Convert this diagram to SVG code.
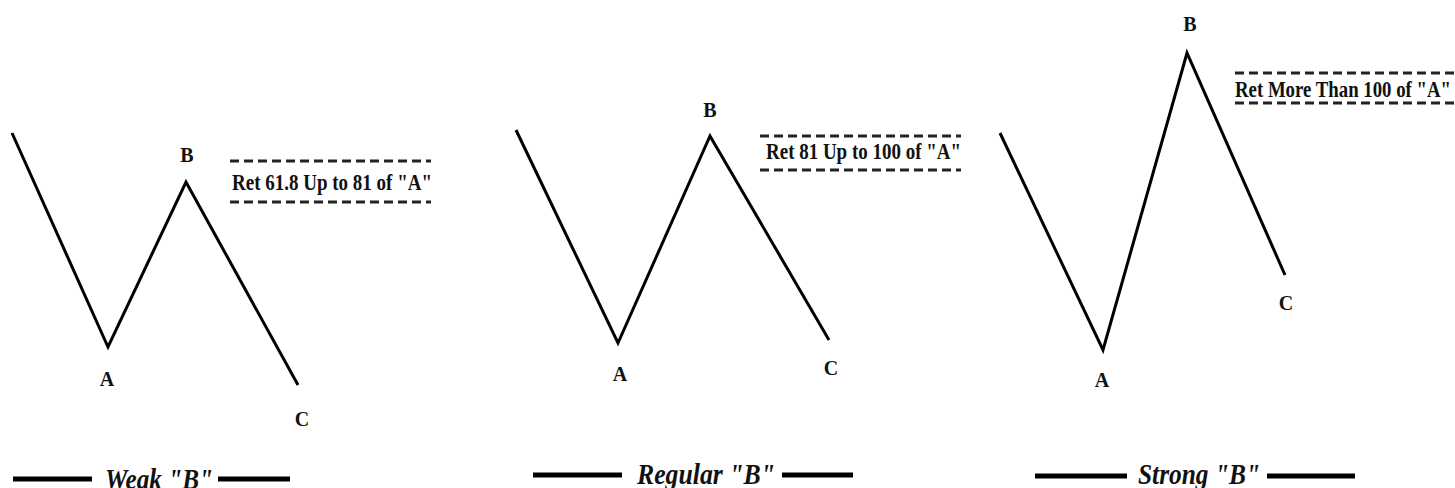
<svg xmlns="http://www.w3.org/2000/svg" width="1455" height="488" viewBox="0 0 1455 488">
<style>
.wave{fill:none;stroke:#000;stroke-width:3;stroke-linejoin:miter}
.dash{stroke:#222;stroke-width:3;stroke-dasharray:9 5}
.bar{stroke:#000;stroke-width:5}
.pt{font-family:"Liberation Serif",serif;font-weight:bold;font-size:20px;fill:#111;text-anchor:middle}
.ret{font-family:"Liberation Serif",serif;font-weight:bold;font-size:23px;fill:#111}
.title{font-family:"Liberation Serif",serif;font-weight:bold;font-style:italic;font-size:30px;fill:#111}
</style>
<rect width="1455" height="488" fill="#fff"/>
<g id="connectors">
<polyline class="wave" points="12,133 108,347 186,182 298,385"/>
<polyline class="wave" points="516,130 618,343 710,136 829,340"/>
<polyline class="wave" points="1000,133 1103,350 1187,53 1285,275"/>
</g>
<g id="weak">
<text class="pt" x="187" y="162">B</text>
<text class="pt" x="107" y="386">A</text>
<text class="pt" x="302" y="426">C</text>
<line class="dash" x1="230" y1="161" x2="431" y2="161"/>
<line class="dash" x1="230" y1="202" x2="431" y2="202"/>
<text class="ret" x="232" y="190" textLength="200" lengthAdjust="spacingAndGlyphs">Ret 61.8 Up to 81 of "A"</text>
<line class="bar" x1="13" y1="479" x2="92" y2="479"/>
<text class="title" x="105" y="489" textLength="108" lengthAdjust="spacingAndGlyphs">Weak "B"</text>
<line class="bar" x1="218" y1="479" x2="290" y2="479"/>
</g>
<g id="regular">
<text class="pt" x="710" y="117">B</text>
<text class="pt" x="620" y="381">A</text>
<text class="pt" x="831" y="375">C</text>
<line class="dash" x1="760" y1="136" x2="961" y2="136"/>
<line class="dash" x1="760" y1="170" x2="961" y2="170"/>
<text class="ret" x="766" y="159" textLength="195" lengthAdjust="spacingAndGlyphs">Ret 81 Up to 100 of "A"</text>
<line class="bar" x1="533" y1="475" x2="622" y2="475"/>
<text class="title" x="637" y="484" textLength="138" lengthAdjust="spacingAndGlyphs">Regular "B"</text>
<line class="bar" x1="782" y1="475" x2="853" y2="475"/>
</g>
<g id="strong">
<text class="pt" x="1190" y="31">B</text>
<text class="pt" x="1102" y="387">A</text>
<text class="pt" x="1286" y="310">C</text>
<line class="dash" x1="1235" y1="73" x2="1455" y2="73"/>
<line class="dash" x1="1235" y1="103" x2="1455" y2="103"/>
<text class="ret" x="1235" y="97" textLength="216" lengthAdjust="spacingAndGlyphs">Ret More Than 100 of "A"</text>
<line class="bar" x1="1035" y1="476" x2="1127" y2="476"/>
<text class="title" x="1138" y="484" textLength="122" lengthAdjust="spacingAndGlyphs">Strong "B"</text>
<line class="bar" x1="1267" y1="476" x2="1355" y2="476"/>
</g>
</svg>
